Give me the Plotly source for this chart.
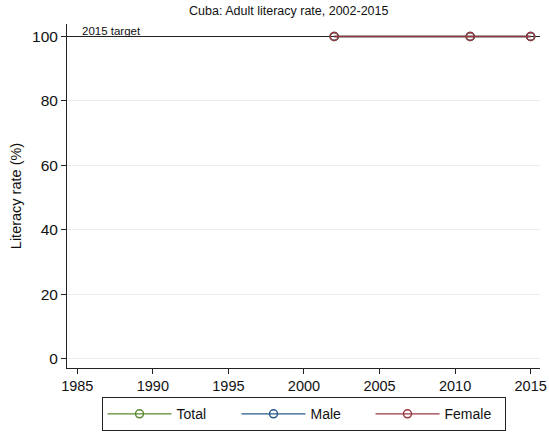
import plotly.graph_objects as go

years = [2002, 2011, 2015]
total = [100, 100, 100]
male = [100, 100, 100]
female = [100, 100, 100]
target_value = 100
target_label = "2015 target"
title = "Cuba: Adult literacy rate, 2002-2015"
y_title = "Literacy rate (%)"
x_ticks = [1985, 1990, 1995, 2000, 2005, 2010, 2015]
y_ticks = [0, 20, 40, 60, 80, 100]
x_range = [1984.32, 2015.62]
y_range = [-2.8, 103.875]

series = [("Total", total, "#5b8a30"), ("Male", male, "#2b5b8c"), ("Female", female, "#9a3840")]

fig = go.Figure()
# 2015 target reference line spanning the full x range
fig.add_trace(go.Scatter(
    x=x_range, y=[target_value, target_value], mode="lines", showlegend=False,
    hoverinfo="skip", line=dict(color="#222222", width=1.2),
))
for name, vals, col in series:
    fig.add_trace(go.Scatter(
        x=years, y=vals, name=name, mode="lines+markers",
        line=dict(color=col, width=1.3),
        marker=dict(symbol="circle-open", size=8, color=col, line=dict(width=1.5, color=col)),
    ))

fig.add_annotation(x=(80 - 67) / 473, xref="x domain", y=target_value, yref="y", text=target_label,
                   showarrow=False, xanchor="left", yanchor="bottom", yshift=-2,
                   font=dict(size=11.5, color="#111111"))

fig.update_layout(
    width=549, height=433,
    margin=dict(l=67, r=9, t=24, b=65, autoexpand=False),
    paper_bgcolor="white", plot_bgcolor="white",
    font=dict(family="Liberation Sans, Arial, sans-serif", color="#111111", size=13),
    title=dict(text=title, x=0.526, xref="container", xanchor="center", y=0.985, yanchor="top",
               font=dict(size=12.5, color="#111111")),
    showlegend=True,
    legend=dict(orientation="h", x=0.5, xanchor="center", y=-0.085, yanchor="top",
                bordercolor="#222222", borderwidth=1, bgcolor="white",
                font=dict(size=14), itemwidth=64, entrywidth=55, tracegroupgap=0,
                valign="middle"),
)
fig.update_xaxes(range=x_range, tickvals=x_ticks, ticks="outside", ticklen=5,
                 tickcolor="#222222", showline=True, linecolor="#222222", linewidth=1,
                 showgrid=False, zeroline=False, tickfont=dict(size=14.5))
fig.update_yaxes(range=y_range, tickvals=y_ticks, ticks="outside", ticklen=5,
                 tickcolor="#222222", showline=True, linecolor="#222222", linewidth=1,
                 showgrid=True, gridcolor="#ececec", gridwidth=1, zeroline=False,
                 title=dict(text=y_title, font=dict(size=14.5), standoff=6),
                 tickfont=dict(size=15.5))

fig.write_html("out.html", config={"displayModeBar": False},
               post_script="document.body.style.margin='0';document.body.style.padding='0';")
